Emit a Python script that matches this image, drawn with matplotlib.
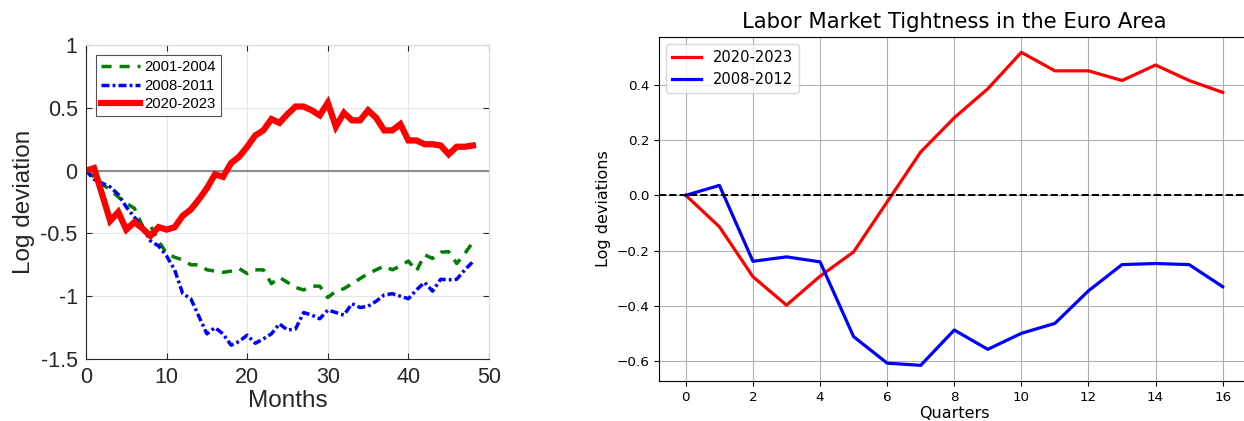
import matplotlib
matplotlib.use("Agg")
import matplotlib.pyplot as plt
import numpy as np

# ---------------- data: left panel (monthly) ----------------
months = list(range(0, 49))
series_2001_2004 = [0.00, -0.05, -0.11, -0.15, -0.21, -0.26, -0.30, -0.44, -0.44, -0.56, -0.66,
                    -0.69, -0.71, -0.75, -0.75, -0.79, -0.80, -0.81, -0.80, -0.78, -0.82,
                    -0.79, -0.79, -0.90, -0.85, -0.89, -0.93, -0.95, -0.92, -0.92, -1.01,
                    -0.96, -0.94, -0.90, -0.86, -0.82, -0.79, -0.76, -0.79, -0.76, -0.72,
                    -0.80, -0.67, -0.70, -0.65, -0.645, -0.74, -0.66, -0.57]
series_2008_2011 = [0.00, -0.07, -0.10, -0.13, -0.19, -0.29, -0.37, -0.45, -0.56, -0.60, -0.68,
                    -0.79, -0.98, -1.02, -1.16, -1.30, -1.25, -1.30, -1.39, -1.36, -1.31,
                    -1.375, -1.34, -1.30, -1.22, -1.27, -1.26, -1.13, -1.15, -1.18, -1.11,
                    -1.13, -1.15, -1.06, -1.09, -1.08, -1.04, -0.99, -0.98, -1.00, -1.02,
                    -0.95, -0.89, -0.96, -0.865, -0.87, -0.865, -0.79, -0.725]
series_2020_2023 = [0.00, 0.02, -0.19, -0.40, -0.33, -0.47, -0.41, -0.46, -0.52, -0.45, -0.47,
                    -0.45, -0.36, -0.31, -0.23, -0.14, -0.03, -0.05, 0.06, 0.11, 0.19,
                    0.28, 0.32, 0.41, 0.38, 0.45, 0.51, 0.51, 0.48, 0.44, 0.54,
                    0.35, 0.46, 0.40, 0.40, 0.48, 0.42, 0.32, 0.32, 0.37, 0.24,
                    0.24, 0.21, 0.21, 0.20, 0.13, 0.19, 0.19, 0.20]
left_labels = ["2001-2004", "2008-2011", "2020-2023"]
left_xticks = [0, 10, 20, 30, 40, 50]
left_yticks = [-1.5, -1, -0.5, 0, 0.5, 1]
left_yticklabels = ["-1.5", "-1", "-0.5", "0", "0.5", "1"]

# ---------------- data: right panel (quarterly) ----------------
quarters = list(range(0, 17))
euro_2020_2023 = [0.0, -0.114, -0.295, -0.398, -0.293, -0.205, -0.024, 0.157, 0.281,
                  0.386, 0.518, 0.451, 0.451, 0.416, 0.472, 0.416, 0.373]
euro_2008_2012 = [0.0, 0.036, -0.239, -0.223, -0.241, -0.512, -0.608, -0.616, -0.488,
                  -0.558, -0.500, -0.464, -0.346, -0.251, -0.247, -0.251, -0.331]
right_labels = ["2020-2023", "2008-2012"]
right_title = "Labor Market Tightness in the Euro Area"

fig = plt.figure(figsize=(12.44, 4.21), dpi=100)

# ---------------- left panel (MATLAB-like) ----------------
lf = ["Liberation Sans", "DejaVu Sans"]
axL = fig.add_axes([86/1244, 1-359/421, (489-86)/1244, (359-45)/421])
axL.plot(months, series_2001_2004, color=(0, 0.5, 0), lw=2.5, dashes=(2.9, 2.3),
         label=left_labels[0])
axL.plot(months, series_2008_2011, color=(0, 0, 1), lw=2.5, dashes=(2.3, 0.9, 0.8, 0.9),
         label=left_labels[1])
axL.plot(months, series_2020_2023, color=(1, 0, 0), lw=4.5, solid_joinstyle="miter",
         label=left_labels[2])
axL.axhline(0, color="#8c8c8c", lw=1.5, zorder=1)
axL.set_xlim(0, 50)
axL.set_ylim(-1.5, 1)
axL.set_xticks(left_xticks)
axL.set_yticks(left_yticks)
axL.set_yticklabels(left_yticklabels)
axL.grid(True, color="#e6e6e6", lw=0.8)
axL.set_axisbelow(True)
axL.tick_params(direction="in", top=True, right=True, length=4, width=0.8,
                colors="#262626", labelsize=15.5, pad=6)
for lab in axL.get_xticklabels() + axL.get_yticklabels():
    lab.set_family(lf)
for s in axL.spines.values():
    s.set_color("#262626")
    s.set_linewidth(0.8)
axL.spines["top"].set_color("#d9d9d9")
axL.spines["right"].set_color("#d9d9d9")
axL.set_xlabel("Months", fontsize=17.5, family=lf, color="#262626", labelpad=1)
axL.set_ylabel("Log deviation", fontsize=17.5, family=lf, color="#262626", labelpad=4)
legL = axL.legend(loc="upper left", bbox_to_anchor=(0.024, 0.968), prop={"family": lf, "size": 10.7},
                  frameon=True, fancybox=False, edgecolor="#262626", handlelength=2.6,
                  handletextpad=0.35, borderpad=0.35, labelspacing=0.3, borderaxespad=0)
legL.get_frame().set_linewidth(0.8)

# ---------------- right panel (matplotlib default) ----------------
axR = fig.add_axes([659/1244, 1-381/421, (1249.5-659)/1244, (381-36.7)/421])
axR.plot(quarters, euro_2020_2023, color="red", lw=2.3, label=right_labels[0])
axR.plot(quarters, euro_2008_2012, color="blue", lw=2.3, label=right_labels[1])
axR.axhline(0, color="black", ls="--", lw=1.4)
axR.set_xticks(range(0, 17, 2))
axR.grid(True, color="#b0b0b0", lw=0.8)
axR.tick_params(labelsize=9.7)
axR.set_title(right_title, fontsize=15.2, pad=6)
axR.set_xlabel("Quarters", fontsize=11.5, labelpad=2)
axR.set_ylabel("Log deviations", fontsize=11.5)
axR.legend(loc="upper left", fontsize=10.5)

fig.savefig("out.png", dpi=100)
